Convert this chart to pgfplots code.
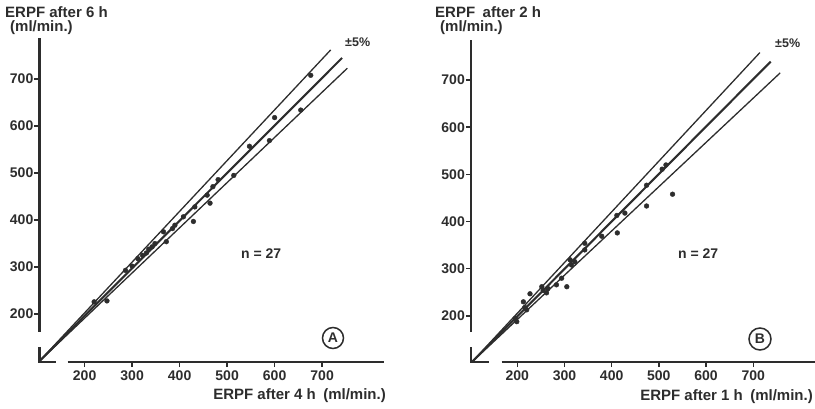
\documentclass[border=0pt]{standalone}
\usepackage{fontspec}
\setmainfont{Liberation Sans}
\usepackage{pgfplots}
\pgfplotsset{compat=1.18}
\definecolor{ink}{RGB}{45,45,45}

\pgfplotsset{
  erpf/.style={
    axis lines=left,
    axis line style={draw=none,-},
    clip=false,
    anchor=south west,
    xtick={200,300,...,700},
    ytick={200,300,...,700},
    tick align=outside,
    major tick length=5pt,
    tick style={ink, line width=1.4pt},
    ticklabel style={font=\bfseries\fontsize{14}{16}\selectfont, text=ink},
    yticklabel style={inner xsep=1pt},
    /pgf/number format/assume math mode=true,
    /pgf/number format/1000 sep={},
  },
  dots/.style={only marks, mark=*, mark size=2.4pt, ink},
  mid/.style={ink, line width=2.1pt},
  side/.style={ink, line width=1.3pt},
}
\tikzset{ax/.style={ink, line width=2.6pt}}

\newcommand{\lab}{\bfseries\fontsize{15}{17}\selectfont}

\begin{document}
\begin{tikzpicture}
\useasboundingbox (0,0) rectangle (815pt,408pt);

% panel A: 6 h against 4 h
\begin{axis}[erpf, at={(39.5pt,46pt)},
  x=0.475pt, y=0.47pt,
  xmin=105, xmax=830, ymin=98, ymax=790]
\addplot[side] coordinates {(105,100)(718,762)};
\addplot[mid] coordinates {(105,100)(742,745)};
\addplot[side] coordinates {(105,100)(753,723)};
\addplot[dots] coordinates {
 (676,708)(600,618)(655,634)(547,557)(589,569)(514,495)(481,486)
 (470,471)(458,453)(464,436)(432,428)(429,397)(408,407)(390,389)
 (385,382)(366,375)(372,354)(348,350)(342,343)(335,338)(330,330)
 (322,325)(312,318)(300,302)(286,293)(220,226)(247,228)
};
\draw[ax] (axis cs:105,162) -- (axis cs:105,787);
\draw[ax] (axis cs:105,130) -- (axis cs:105,98) -- (axis cs:139,98);
\draw[ax] (axis cs:164,98) -- (axis cs:830,98);
\end{axis}

% panel B: 2 h against 1 h
\begin{axis}[erpf, at={(471pt,46pt)},
  x=0.472pt, y=0.472pt,
  xmin=102, xmax=831, ymin=102.5, ymax=785]
\addplot[side] coordinates {(104,102.5)(714,758)};
\addplot[mid] coordinates {(104,102.5)(737,739)};
\addplot[side] coordinates {(104,102.5)(757,715)};
\addplot[dots] coordinates {
 (529,458)(515,520)(507,511)(474,477)(474,433)(411,413)(428,418)
 (412,376)(379,369)(343,354)(343,340)(312,319)(322,315)(315,308)
 (294,280)(305,262)(283,266)(252,262)(255,254)(262,249)(227,247)
 (213,230)(220,213)(199,188)(196,195)(216,218)(265,258)
};
\draw[ax] (axis cs:102,166) -- (axis cs:102,785);
\draw[ax] (axis cs:102,134) -- (axis cs:102,102.5) -- (axis cs:140,102.5);
\draw[ax] (axis cs:167,102.5) -- (axis cs:831,102.5);
\end{axis}

% texts, panel A
\node[anchor=base west, inner sep=0, text=ink, font=\lab] at (5pt,390pt) {ERPF after 6 h};
\node[anchor=base west, inner sep=0, text=ink, font=\lab] at (10pt,376pt) {(ml/min.)};
\node[anchor=base east, inner sep=0, text=ink, font=\lab] at (386pt,9pt) {ERPF after 4 h\enspace(ml/min.)};
\node[anchor=base west, inner sep=0, text=ink, font=\bfseries\fontsize{12.5}{14}\selectfont] at (345pt,361pt) {±5\%};
\node[anchor=base west, inner sep=0, text=ink, font=\bfseries\fontsize{14}{16}\selectfont] at (241pt,150pt) {n = 27};
\draw[ink, line width=1.5pt] (333pt,70pt) circle (10.5pt);
\node[text=ink, font=\bfseries\fontsize{14}{16}\selectfont] at (333pt,70pt) {A};

% texts, panel B
\node[anchor=base west, inner sep=0, text=ink, font=\lab] at (435pt,390pt) {ERPF\enspace after 2 h};
\node[anchor=base west, inner sep=0, text=ink, font=\lab] at (440pt,376pt) {(ml/min.)};
\node[anchor=base east, inner sep=0, text=ink, font=\lab] at (813pt,8pt) {ERPF after 1 h\enspace(ml/min.)};
\node[anchor=base west, inner sep=0, text=ink, font=\bfseries\fontsize{12.5}{14}\selectfont] at (775pt,360pt) {±5\%};
\node[anchor=base west, inner sep=0, text=ink, font=\bfseries\fontsize{14}{16}\selectfont] at (678pt,150pt) {n = 27};
\draw[ink, line width=1.5pt] (760pt,69pt) circle (11pt);
\node[text=ink, font=\bfseries\fontsize{14}{16}\selectfont] at (760pt,69pt) {B};
\end{tikzpicture}
\end{document}
